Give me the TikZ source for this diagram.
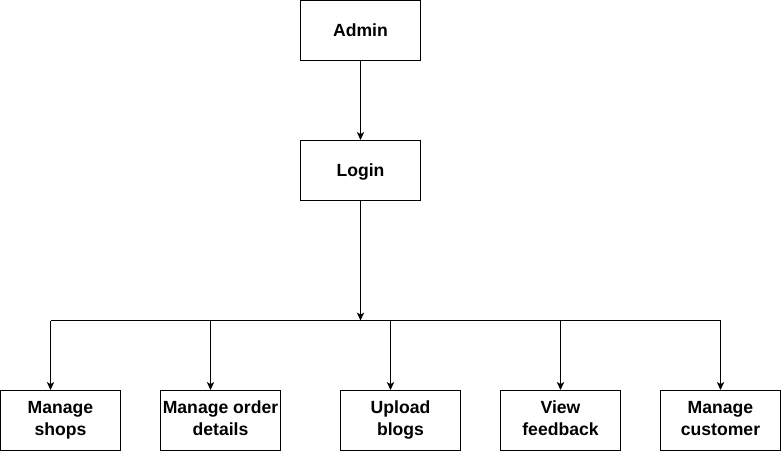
\documentclass[tikz,border=0pt]{standalone}
\usepackage{fontspec}
\setmainfont{Liberation Sans}
\usetikzlibrary{arrows.meta}
\newcommand\TopStrut{\rule{0pt}{13pt}}
\newcommand\BotStrut{\rule[-3.5pt]{0pt}{3.5pt}}
\tikzset{
    box/.style={draw,line width=0.75pt,minimum width=90pt,minimum height=45pt,inner sep=0pt,
        align=center,font=\bfseries\fontsize{13.2}{16.5}\selectfont,
        execute at begin node=\TopStrut,execute at end node=\BotStrut},
    link/.style={line width=0.75pt,-{Stealth[length=6pt,width=5.5pt,inset=1.6pt]}}
}
\begin{document}
\begin{tikzpicture}[x=0.75pt,y=-0.75pt]
    \useasboundingbox (-0.5,-0.5) rectangle (780.5,450.5);
    \node[box] (admin) at (360,30) {Admin};
    \node[box] (login) at (360,170) {Login};
    \coordinate (hub) at (360,320);
    \draw[link] (admin) -- (login);
    \draw[link] (login) -- (hub);
    \draw[line width=0.75pt] (50,320) coordinate (busL) -- (720,320) coordinate (busR);
    \foreach \nm/\cx/\ax/\txt in {shops/60/50/{Manage\\shops},
            orders/220/210/{Manage order\\details},
            blogs/400/390/{Upload\\blogs},
            feedback/560/560/{View\\feedback},
            customer/720/720/{Manage\\customer}}{
        \node[box] (\nm) at (\cx,420) {\txt};
        \coordinate (\nm tap) at (\ax,320);
        \draw[link] (\nm tap) -- (\nm tap |- \nm.north);
    }
\end{tikzpicture}
\end{document}
